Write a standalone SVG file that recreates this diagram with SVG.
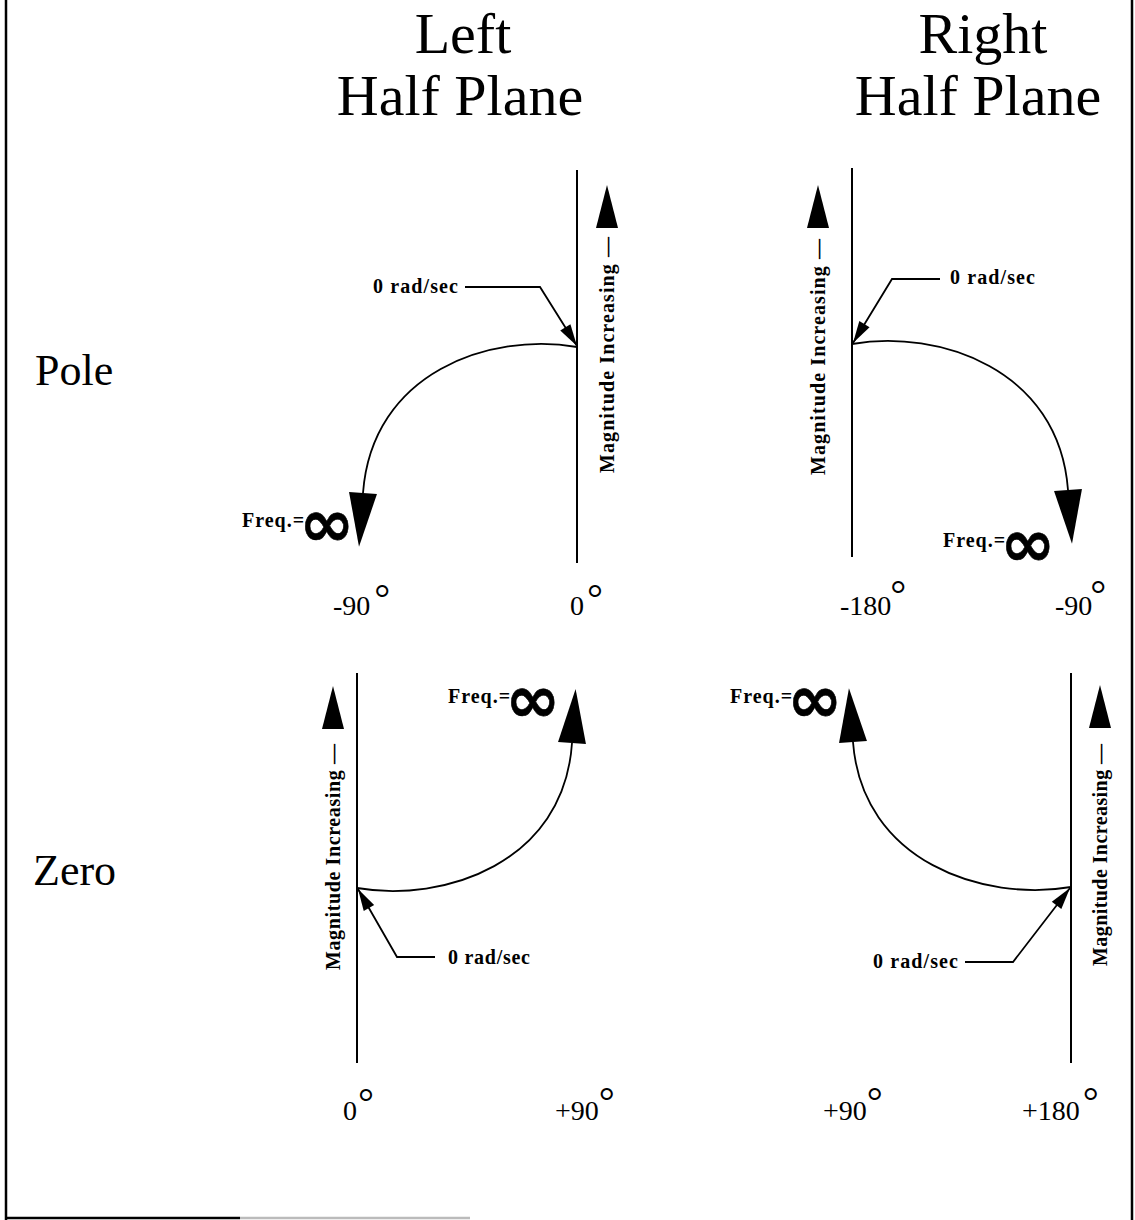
<svg xmlns="http://www.w3.org/2000/svg" width="1135" height="1220" viewBox="0 0 1135 1220">
<style>
.hd{font-family:"Liberation Serif","Times New Roman",serif;font-size:58px;fill:#000;text-anchor:middle}
.rw{font-family:"Liberation Serif","Times New Roman",serif;font-size:44px;fill:#000}
.dg{font-family:"Liberation Serif","Times New Roman",serif;font-size:28px;fill:#000}
.sm{font-family:"Liberation Serif","Times New Roman",serif;font-size:20px;font-weight:bold;fill:#000}
.inf{font-family:"DejaVu Sans",sans-serif;font-size:66px;font-weight:bold;stroke:#000;stroke-width:0.6}
.deg{font-size:40px}
.ln{fill:none;stroke:#000;stroke-width:1.8}
.ax{fill:none;stroke:#000;stroke-width:2}
</style>
<defs>
<marker id="big" markerUnits="userSpaceOnUse" markerWidth="60" markerHeight="32" viewBox="0 -16 56 32" refX="0" refY="0" orient="auto">
<path d="M0,-14 L54,0 L0,14 z" fill="#000"/>
</marker>
<marker id="small" markerUnits="userSpaceOnUse" markerWidth="26" markerHeight="16" viewBox="0 -8 24 16" refX="22" refY="0" orient="auto">
<path d="M0,-6 L22,0 L0,6 z" fill="#000"/>
</marker>
<path id="magArrow" d="M0,0 L-11,43 L11,43 z" fill="#000"/>
</defs>

<g id="border" stroke="#000" fill="none">
<line x1="6" y1="0" x2="6" y2="1220" stroke-width="2.5"/>
<line x1="1132" y1="0" x2="1132" y2="1220" stroke-width="2.5"/>
<line x1="6" y1="1218" x2="240" y2="1218" stroke-width="2.5"/>
<line x1="240" y1="1218" x2="470" y2="1218" stroke-width="2.5" stroke="#bbb"/>
</g>

<g id="headings">
<text class="hd" x="463" y="53">Left</text>
<text class="hd" x="460" y="115">Half Plane</text>
<text class="hd" x="983" y="53">Right</text>
<text class="hd" x="978" y="115">Half Plane</text>
</g>

<g id="row-labels">
<text class="rw" x="35" y="385">Pole</text>
<text class="rw" x="33" y="885">Zero</text>
</g>

<g id="axes">
<line class="ax" x1="577" y1="170" x2="577" y2="563"/>
<line class="ax" x1="852" y1="168" x2="852" y2="557"/>
<line class="ax" x1="357" y1="673" x2="357" y2="1063"/>
<line class="ax" x1="1071" y1="673" x2="1071" y2="1063"/>
</g>

<g id="magnitude-labels">
<use href="#magArrow" x="607" y="185"/>
<text class="sm" transform="translate(614,473) rotate(-90)" textLength="236" lengthAdjust="spacing">Magnitude Increasing —</text>
<use href="#magArrow" x="818" y="185"/>
<text class="sm" transform="translate(825,475) rotate(-90)" textLength="236" lengthAdjust="spacing">Magnitude Increasing —</text>
<use href="#magArrow" x="333" y="686"/>
<text class="sm" transform="translate(340,970) rotate(-90)" textLength="226" lengthAdjust="spacing">Magnitude Increasing —</text>
<use href="#magArrow" x="1100" y="685"/>
<text class="sm" transform="translate(1107,966) rotate(-90)" textLength="222" lengthAdjust="spacing">Magnitude Increasing —</text>
</g>

<g id="connectors">
<path id="arc-pole-lhp" class="ln" d="M577,347 C490,332 372,372 363,493" marker-end="url(#big)"/>
<path id="arc-pole-rhp" class="ln" d="M852,344 C939,329 1059,369 1068,490" marker-end="url(#big)"/>
<path id="arc-zero-lhp" class="ln" d="M357,888 C444,903 564,863 572,743" marker-end="url(#big)"/>
<path id="arc-zero-rhp" class="ln" d="M1071,887 C984,902 862,862 853,742" marker-end="url(#big)"/>
<polyline class="ln" points="465,287 540,287 577,346" marker-end="url(#small)"/>
<polyline class="ln" points="940,279 892,279 853,343" marker-end="url(#small)"/>
<polyline class="ln" points="435,957 397,957 358,889" marker-end="url(#small)"/>
<polyline class="ln" points="965,962 1013,962 1070,888" marker-end="url(#small)"/>
</g>

<g id="zero-labels">
<text class="sm" x="373" y="293" textLength="85" lengthAdjust="spacing">0 rad/sec</text>
<text class="sm" x="950" y="284" textLength="85" lengthAdjust="spacing">0 rad/sec</text>
<text class="sm" x="448" y="964" textLength="82" lengthAdjust="spacing">0 rad/sec</text>
<text class="sm" x="873" y="968" textLength="85" lengthAdjust="spacing">0 rad/sec</text>
</g>

<g id="freq-labels">
<text class="sm" x="242" y="527" letter-spacing="1">Freq.=<tspan class="inf" dx="-6" dy="19" letter-spacing="0">∞</tspan></text>
<text class="sm" x="943" y="547" letter-spacing="1">Freq.=<tspan class="inf" dx="-6" dy="19" letter-spacing="0">∞</tspan></text>
<text class="sm" x="448" y="703" letter-spacing="1">Freq.=<tspan class="inf" dx="-6" dy="19" letter-spacing="0">∞</tspan></text>
<text class="sm" x="730" y="703" letter-spacing="1">Freq.=<tspan class="inf" dx="-6" dy="19" letter-spacing="0">∞</tspan></text>
</g>

<g id="degree-labels">
<text class="dg" x="333" y="615">-90<tspan class="deg" dx="4" dy="-3">°</tspan></text>
<text class="dg" x="570" y="615">0<tspan class="deg" dx="3" dy="-3">°</tspan></text>
<text class="dg" x="840" y="615">-180<tspan class="deg" dx="-1" dy="-7">°</tspan></text>
<text class="dg" x="1055" y="615">-90<tspan class="deg" dx="-2" dy="-7">°</tspan></text>
<text class="dg" x="343" y="1120">0<tspan class="deg" dx="1" dy="-4">°</tspan></text>
<text class="dg" x="555" y="1120">+90<tspan class="deg" dx="0" dy="-5">°</tspan></text>
<text class="dg" x="823" y="1120">+90<tspan class="deg" dx="0" dy="-5">°</tspan></text>
<text class="dg" x="1022" y="1120">+180<tspan class="deg" dx="3" dy="-5">°</tspan></text>
</g>
</svg>
